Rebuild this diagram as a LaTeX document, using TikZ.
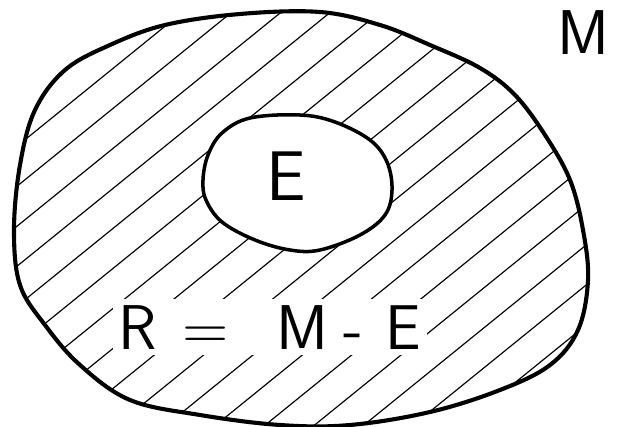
\documentclass[tikz,border=0pt]{standalone}
\usepackage{tikz}
\tikzset{
  setline/.style = {line width=3.5pt, line join=round},
  subline/.style = {line width=3pt, line join=round},
  hatch/.style = {line width=1pt},
  setlabel/.style = {font=\sffamily\fontsize{#1}{#1}\selectfont, inner sep=0pt, anchor=base},
  eqlabel/.style = {font=\sffamily\fontsize{54}{60}\selectfont, fill=white, inner sep=5pt, anchor=base}
}

\begin{document}
\begin{tikzpicture}[x=0.03cm, y=-0.03cm]
  \useasboundingbox (0,0) rectangle (617,427);

  % Outline of M, then of E
  \path[save path=\outerset] plot[smooth cycle, tension=0.6] coordinates {
    (14,230) (20,165) (35,110) (65,70) (110,45) (165,25) (240,14) (320,12)
    (380,25) (430,45) (480,68) (515,95) (545,135) (570,180) (583,230)
    (588,280) (578,330) (550,365) (500,390) (430,412) (350,425) (280,425)
    (200,415) (130,400) (80,365) (45,325) (20,285)};
  \path[save path=\innerset] plot[smooth cycle, tension=0.6] coordinates {
    (203,180) (208,155) (222,133) (250,118) (300,115) (335,122) (370,140)
    (387,162) (392,190) (385,215) (360,235) (320,250) (290,250) (255,240)
    (222,222) (206,200)};

  % Hatching of R
  \begin{scope}
    \clip[use path=\outerset];
    \foreach \c in {0,40,...,960}
      \draw[hatch] (0,\c) -- (617,\c-500);
  \end{scope}

  % Label R = M - E
  \node[eqlabel] (rlabel) at (270,349)
    {R\hspace{0.4em}=\hspace{0.75em}M\hspace{0.25em}-\hspace{0.35em}E};

  % The sets
  \draw[setline, use path=\outerset];
  \draw[subline, fill=white, use path=\innerset];
  \node[setlabel=60] (elabel) at (286,201) {E};
  \node[setlabel=54] (mlabel) at (583,55) {M};
\end{tikzpicture}
\end{document}
